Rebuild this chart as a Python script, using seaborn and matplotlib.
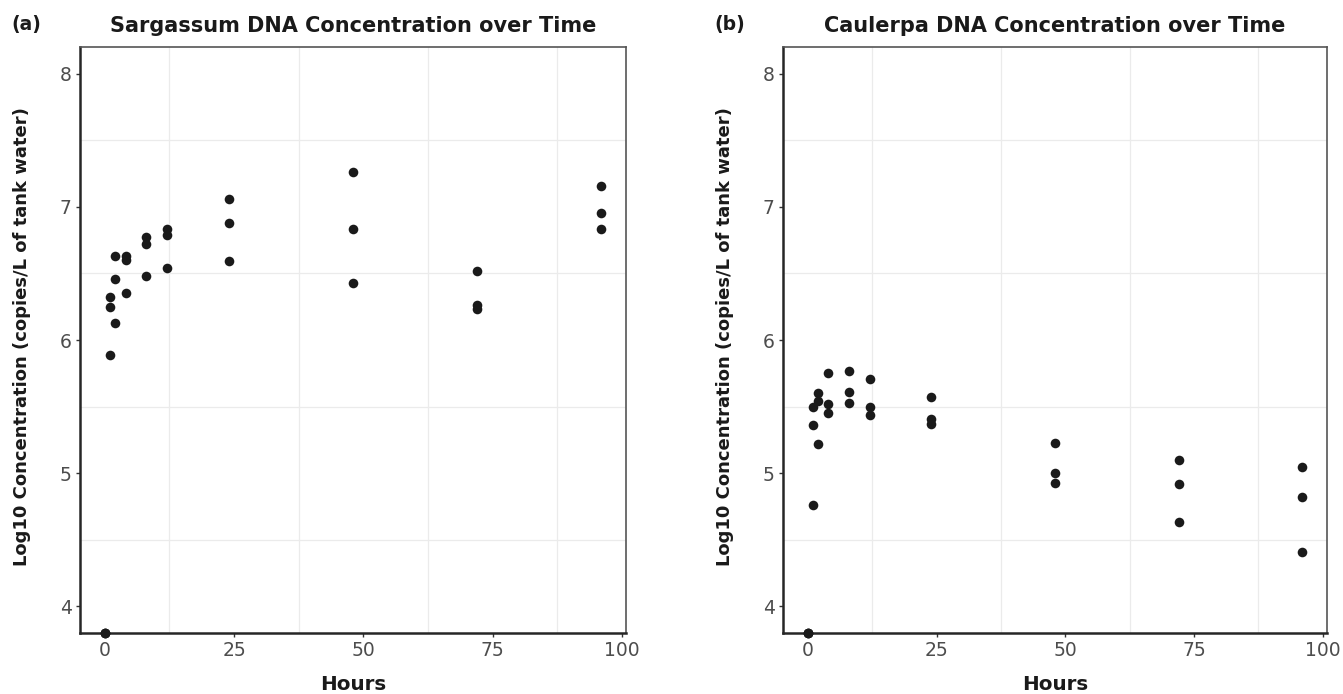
import pandas as pd
import seaborn as sns
import matplotlib.pyplot as plt

# sampling times (3 replicates each)
hours = [0, 0, 0, 1, 1, 1, 2, 2, 2, 4, 4, 4, 8, 8, 8,
         12, 12, 12, 24, 24, 24, 48, 48, 48, 72, 72, 72, 96, 96, 96]

sargassum = [3.8, 3.8, 3.8, 6.32, 6.25, 5.89, 6.63, 6.46, 6.13,
             6.63, 6.60, 6.35, 6.77, 6.72, 6.48, 6.83, 6.79, 6.54,
             7.06, 6.88, 6.59, 7.26, 6.83, 6.43, 6.52, 6.26, 6.23,
             7.16, 6.95, 6.83]

caulerpa = [3.8, 3.8, 3.8, 5.50, 5.36, 4.76, 5.60, 5.54, 5.22,
            5.75, 5.52, 5.45, 5.77, 5.61, 5.53, 5.71, 5.50, 5.44,
            5.57, 5.41, 5.37, 5.23, 5.00, 4.93, 5.10, 4.92, 4.63,
            5.05, 4.82, 4.41]

x_ticks = [0, 25, 50, 75, 100]
y_ticks = [4, 5, 6, 7, 8]

panels = [
    ('(a)', 'Sargassum DNA Concentration over Time', sargassum, 80),
    ('(b)', 'Caulerpa DNA Concentration over Time', caulerpa, 783),
]

sns.set_style('white')
plt.rcParams['font.family'] = ['DejaVu Sans']

W, H = 1343, 694
fig = plt.figure(figsize=(W / 100, H / 100), dpi=100)

for tag, title, vals, left in panels:
    right = left + 546 if left == 80 else 1327
    ax = fig.add_axes([left / W, 1 - 633 / H, (right - left) / W, (633 - 47) / H])
    df = pd.DataFrame({'Hours': hours, 'Conc': vals})
    sns.scatterplot(data=df, x='Hours', y='Conc', ax=ax, color='#1a1a1a',
                    s=48, linewidth=0, clip_on=False, zorder=3)

    ax.set_xlim(-4.8, 100.8)
    ax.set_ylim(3.8, 8.2)
    ax.set_xticks(x_ticks)
    ax.set_yticks(y_ticks)
    ax.set_xticks([12.5, 37.5, 62.5, 87.5], minor=True)
    ax.set_yticks([4.5, 5.5, 6.5, 7.5], minor=True)
    ax.grid(False, which='major')
    ax.grid(True, which='minor', color='#ebebeb', linewidth=0.9)
    ax.set_axisbelow(True)

    ax.tick_params(which='major', length=3, width=1, color='#333333',
                   labelsize=13.5, labelcolor='#4d4d4d', pad=3, direction='out',
                   bottom=True, left=True)
    ax.tick_params(which='minor', length=0)

    for side in ['left', 'bottom']:
        ax.spines[side].set_color('#262626')
        ax.spines[side].set_linewidth(1.8)
    for side in ['top', 'right']:
        ax.spines[side].set_color('#555555')
        ax.spines[side].set_linewidth(1.2)

    ax.set_xlabel('')
    ax.set_ylabel('')

    cx = (left + right) / 2
    fig.text(cx / W, 1 - 32 / H, title, ha='center', va='baseline',
             fontsize=15, fontweight='bold', color='#1a1a1a')
    fig.text((left - 69) / W, 1 - 30 / H, tag, ha='left', va='baseline',
             fontsize=13.5, fontweight='bold', color='#1a1a1a')
    fig.text(cx / W, 1 - 690 / H, 'Hours', ha='center', va='baseline',
             fontsize=14.3, fontweight='bold', color='#1a1a1a')
    fig.text((left - 58) / W, 1 - 337 / H, 'Log10 Concentration (copies/L of tank water)',
             ha='center', va='center', rotation=90,
             fontsize=13, fontweight='bold', color='#1a1a1a')

fig.savefig('out.png', dpi=100)
